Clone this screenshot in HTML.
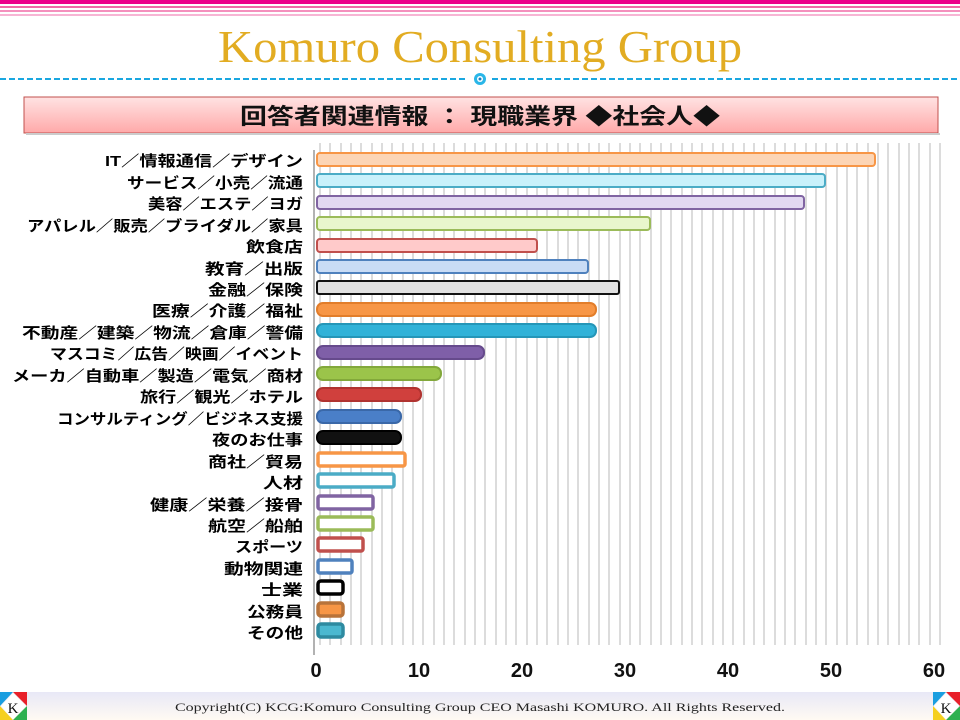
<!DOCTYPE html>
<html><head><meta charset="utf-8"><style>
html,body{margin:0;padding:0;background:#fff;}
body{width:960px;height:720px;overflow:hidden;position:relative;font-family:"Liberation Sans","Noto Sans CJK JP",sans-serif;}
</style></head><body>
<svg width="960" height="720" viewBox="0 0 960 720" xmlns="http://www.w3.org/2000/svg" style="position:absolute;left:0;top:0">
<defs>
<linearGradient id="tg" x1="0" y1="0" x2="0" y2="1"><stop offset="0" stop-color="#ffe3e3"/><stop offset="1" stop-color="#ffa9a9"/></linearGradient>
<linearGradient id="fg" x1="0" y1="0" x2="0" y2="1"><stop offset="0" stop-color="#e8e8f6"/><stop offset="1" stop-color="#fffaf3"/></linearGradient>
</defs>
<rect x="0" y="0" width="960" height="4" fill="#ec008c"/>
<rect x="0" y="6" width="960" height="2" fill="#f06aa8"/>
<rect x="0" y="10" width="960" height="2" fill="#f490bd"/>
<rect x="0" y="14" width="960" height="2" fill="#f7b5d4"/>
<text x="480" y="62" text-anchor="middle" font-family="Liberation Serif,serif" font-size="46" fill="#e2ac22" textLength="524" lengthAdjust="spacingAndGlyphs">Komuro Consulting Group</text>
<line x1="0" y1="79" x2="468" y2="79" stroke="#1aa7e0" stroke-width="2" stroke-dasharray="6,3"/>
<line x1="492" y1="79" x2="960" y2="79" stroke="#1aa7e0" stroke-width="2" stroke-dasharray="6,3"/>
<circle cx="480" cy="79" r="6" fill="#29b6e8"/><circle cx="480" cy="79" r="3" fill="#fff"/><circle cx="480" cy="79" r="1.5" fill="#1a7fc0"/>
<rect x="24" y="97" width="914" height="36" fill="url(#tg)" stroke="#c0504d" stroke-width="1"/>
<rect x="26" y="133" width="914" height="2" fill="#ccc"/>
<text x="480" y="124" text-anchor="middle" font-size="22" font-weight="bold" fill="#111" textLength="480" lengthAdjust="spacingAndGlyphs">回答者関連情報 ： 現職業界 ◆社会人◆</text>
<g stroke="#c4c4c4" stroke-width="1.2">
<line x1="320" y1="143" x2="320" y2="645"/><line x1="330" y1="143" x2="330" y2="645"/><line x1="341" y1="143" x2="341" y2="645"/><line x1="351" y1="143" x2="351" y2="645"/><line x1="361" y1="143" x2="361" y2="645"/><line x1="372" y1="143" x2="372" y2="645"/><line x1="382" y1="143" x2="382" y2="645"/><line x1="392" y1="143" x2="392" y2="645"/><line x1="403" y1="143" x2="403" y2="645"/><line x1="413" y1="143" x2="413" y2="645"/><line x1="423" y1="143" x2="423" y2="645"/><line x1="434" y1="143" x2="434" y2="645"/><line x1="444" y1="143" x2="444" y2="645"/><line x1="454" y1="143" x2="454" y2="645"/><line x1="465" y1="143" x2="465" y2="645"/><line x1="475" y1="143" x2="475" y2="645"/><line x1="485" y1="143" x2="485" y2="645"/><line x1="496" y1="143" x2="496" y2="645"/><line x1="506" y1="143" x2="506" y2="645"/><line x1="516" y1="143" x2="516" y2="645"/><line x1="527" y1="143" x2="527" y2="645"/><line x1="537" y1="143" x2="537" y2="645"/><line x1="547" y1="143" x2="547" y2="645"/><line x1="558" y1="143" x2="558" y2="645"/><line x1="568" y1="143" x2="568" y2="645"/><line x1="578" y1="143" x2="578" y2="645"/><line x1="589" y1="143" x2="589" y2="645"/><line x1="599" y1="143" x2="599" y2="645"/><line x1="609" y1="143" x2="609" y2="645"/><line x1="620" y1="143" x2="620" y2="645"/><line x1="630" y1="143" x2="630" y2="645"/><line x1="640" y1="143" x2="640" y2="645"/><line x1="651" y1="143" x2="651" y2="645"/><line x1="661" y1="143" x2="661" y2="645"/><line x1="671" y1="143" x2="671" y2="645"/><line x1="682" y1="143" x2="682" y2="645"/><line x1="692" y1="143" x2="692" y2="645"/><line x1="702" y1="143" x2="702" y2="645"/><line x1="713" y1="143" x2="713" y2="645"/><line x1="723" y1="143" x2="723" y2="645"/><line x1="733" y1="143" x2="733" y2="645"/><line x1="744" y1="143" x2="744" y2="645"/><line x1="754" y1="143" x2="754" y2="645"/><line x1="764" y1="143" x2="764" y2="645"/><line x1="775" y1="143" x2="775" y2="645"/><line x1="785" y1="143" x2="785" y2="645"/><line x1="795" y1="143" x2="795" y2="645"/><line x1="806" y1="143" x2="806" y2="645"/><line x1="816" y1="143" x2="816" y2="645"/><line x1="826" y1="143" x2="826" y2="645"/><line x1="837" y1="143" x2="837" y2="645"/><line x1="847" y1="143" x2="847" y2="645"/><line x1="857" y1="143" x2="857" y2="645"/><line x1="868" y1="143" x2="868" y2="645"/><line x1="878" y1="143" x2="878" y2="645"/><line x1="888" y1="143" x2="888" y2="645"/><line x1="899" y1="143" x2="899" y2="645"/><line x1="909" y1="143" x2="909" y2="645"/><line x1="919" y1="143" x2="919" y2="645"/><line x1="930" y1="143" x2="930" y2="645"/><line x1="940" y1="143" x2="940" y2="645"/>
</g>
<line x1="314" y1="150" x2="314" y2="655" stroke="#999" stroke-width="1.5"/>
<g stroke-width="2">
<rect x="317" y="153" width="558" height="13" rx="3" fill="#fcd5b5" stroke="#f79646"/>
<rect x="317" y="174" width="508" height="13" rx="3" fill="#c9f1fb" stroke="#4bacc6"/>
<rect x="317" y="196" width="487" height="13" rx="3" fill="#e2d8f1" stroke="#8064a2"/>
<rect x="317" y="217" width="333" height="13" rx="3" fill="#e9f6cc" stroke="#9bbb59"/>
<rect x="317" y="239" width="220" height="13" rx="3" fill="#ffcaca" stroke="#c0504d"/>
<rect x="317" y="260" width="271" height="13" rx="3" fill="#c9dcf5" stroke="#4f81bd"/>
<rect x="317" y="281" width="302" height="13" rx="2" fill="#e0e0e0" stroke="#111"/>
<rect x="317" y="303" width="279" height="13" rx="6" fill="#f79646" stroke="#e27d2a"/>
<rect x="317" y="324" width="279" height="13" rx="6" fill="#31b2d8" stroke="#2596b8"/>
<rect x="317" y="346" width="167" height="13" rx="6" fill="#7f5fa8" stroke="#664a8c"/>
<rect x="317" y="367" width="124" height="13" rx="6" fill="#9bc44a" stroke="#82a83a"/>
<rect x="317" y="388" width="104" height="13" rx="6" fill="#d0403d" stroke="#b03330"/>
<rect x="317" y="410" width="84" height="13" rx="6" fill="#4a7fc8" stroke="#3a68a8"/>
<rect x="317" y="431" width="84" height="13" rx="6" fill="#111" stroke="#000"/>
<g stroke-width="3.5" fill="#fff">
<rect x="318" y="453" width="87" height="13" rx="2" stroke="#f79646"/>
<rect x="318" y="474" width="76" height="13" rx="2" stroke="#4bacc6"/>
<rect x="318" y="496" width="55" height="13" rx="2" stroke="#8064a2"/>
<rect x="318" y="517" width="55" height="13" rx="2" stroke="#9bbb59"/>
<rect x="318" y="538" width="45" height="13" rx="2" stroke="#c0504d"/>
<rect x="318" y="560" width="34" height="13" rx="2" stroke="#4f81bd"/>
<rect x="318" y="581" width="25" height="13" rx="3" stroke="#000"/>
<rect x="318" y="603" width="25" height="13" rx="3" fill="#f79646" stroke="#b8733a"/>
<rect x="318" y="624" width="25" height="13" rx="3" fill="#4bb8d0" stroke="#2e8aa0"/>
</g></g>
<g font-size="15" font-weight="bold" fill="#000" text-anchor="end">
<text x="303" y="166" textLength="198" lengthAdjust="spacingAndGlyphs">IT／情報通信／デザイン</text>
<text x="303" y="188" textLength="176" lengthAdjust="spacingAndGlyphs">サービス／小売／流通</text>
<text x="303" y="209" textLength="155" lengthAdjust="spacingAndGlyphs">美容／エステ／ヨガ</text>
<text x="303" y="231" textLength="276" lengthAdjust="spacingAndGlyphs">アパレル／販売／ブライダル／家具</text>
<text x="303" y="252" textLength="57" lengthAdjust="spacingAndGlyphs">飲食店</text>
<text x="303" y="274" textLength="98" lengthAdjust="spacingAndGlyphs">教育／出版</text>
<text x="303" y="295" textLength="95" lengthAdjust="spacingAndGlyphs">金融／保険</text>
<text x="303" y="316" textLength="151" lengthAdjust="spacingAndGlyphs">医療／介護／福祉</text>
<text x="303" y="338" textLength="281" lengthAdjust="spacingAndGlyphs">不動産／建築／物流／倉庫／警備</text>
<text x="303" y="359" textLength="253" lengthAdjust="spacingAndGlyphs">マスコミ／広告／映画／イベント</text>
<text x="303" y="381" textLength="291" lengthAdjust="spacingAndGlyphs">メーカ／自動車／製造／電気／商材</text>
<text x="303" y="402" textLength="163" lengthAdjust="spacingAndGlyphs">旅行／観光／ホテル</text>
<text x="303" y="424" textLength="246" lengthAdjust="spacingAndGlyphs">コンサルティング／ビジネス支援</text>
<text x="303" y="445" textLength="91" lengthAdjust="spacingAndGlyphs">夜のお仕事</text>
<text x="303" y="467" textLength="95" lengthAdjust="spacingAndGlyphs">商社／貿易</text>
<text x="303" y="488" textLength="40" lengthAdjust="spacingAndGlyphs">人材</text>
<text x="303" y="510" textLength="153" lengthAdjust="spacingAndGlyphs">健康／栄養／接骨</text>
<text x="303" y="531" textLength="95" lengthAdjust="spacingAndGlyphs">航空／船舶</text>
<text x="303" y="552" textLength="68" lengthAdjust="spacingAndGlyphs">スポーツ</text>
<text x="303" y="574" textLength="79" lengthAdjust="spacingAndGlyphs">動物関連</text>
<text x="303" y="595" textLength="42" lengthAdjust="spacingAndGlyphs">士業</text>
<text x="303" y="617" textLength="56" lengthAdjust="spacingAndGlyphs">公務員</text>
<text x="303" y="638" textLength="56" lengthAdjust="spacingAndGlyphs">その他</text>
</g>
<g font-size="20" font-weight="bold" fill="#111" text-anchor="middle">
<text x="316" y="677">0</text><text x="419" y="677">10</text><text x="522" y="677">20</text><text x="625" y="677">30</text><text x="728" y="677">40</text><text x="831" y="677">50</text><text x="934" y="677">60</text>
</g>
<rect x="0" y="692" width="960" height="28" fill="url(#fg)"/>
<text x="480" y="711" text-anchor="middle" font-family="Liberation Serif,serif" font-size="12" fill="#222" textLength="610" lengthAdjust="spacingAndGlyphs">Copyright(C)  KCG:Komuro Consulting Group  CEO Masashi KOMURO. All Rights Reserved.</text>
<g>
<polygon points="0,692 13,692 0,706" fill="#1a9ee0"/><polygon points="13,692 27,692 27,706" fill="#e8202a"/><polygon points="0,706 0,720 13,720" fill="#f5d020"/><polygon points="27,706 27,720 13,720" fill="#2eb050"/>
<polygon points="13,693 26,706 13,719 1,706" fill="#fff"/>
<text x="13" y="713" text-anchor="middle" font-family="Liberation Serif,serif" font-size="15" fill="#111">K</text>
</g>
<g transform="translate(933,0)">
<polygon points="0,692 13,692 0,706" fill="#1a9ee0"/><polygon points="13,692 27,692 27,706" fill="#e8202a"/><polygon points="0,706 0,720 13,720" fill="#f5d020"/><polygon points="27,706 27,720 13,720" fill="#2eb050"/>
<polygon points="13,693 26,706 13,719 1,706" fill="#fff"/>
<text x="13" y="713" text-anchor="middle" font-family="Liberation Serif,serif" font-size="15" fill="#111">K</text>
</g>
</svg>
</body></html>
